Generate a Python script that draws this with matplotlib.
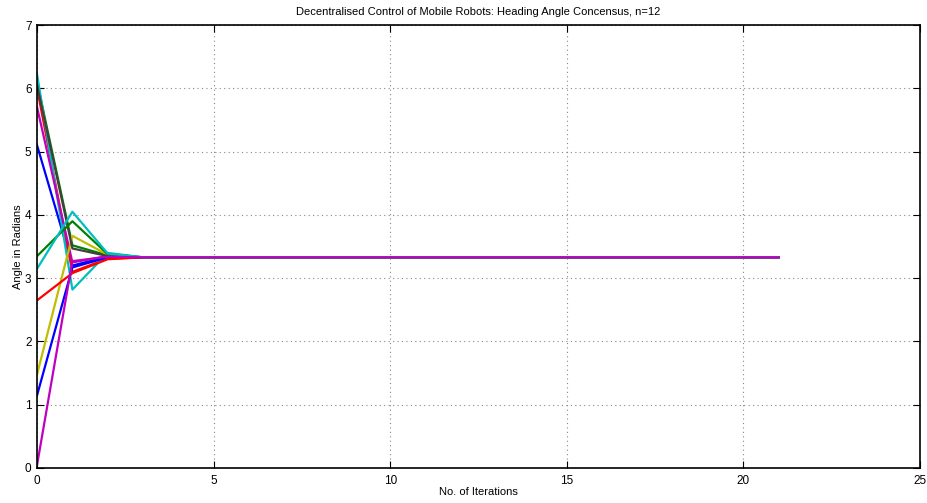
import matplotlib
matplotlib.use('Agg')
import matplotlib.pyplot as plt

plt.rcParams['font.family'] = ['Liberation Sans', 'DejaVu Sans']

# heading angles per robot, iterations 0..21
tail = [3.33] * 18
robots = [
    [5.10, 3.20, 3.34, 3.33] + tail,
    [6.10, 3.52, 3.36, 3.33] + tail,
    [6.00, 3.10, 3.31, 3.33] + tail,
    [6.22, 2.82, 3.40, 3.33] + tail,
    [5.70, 3.25, 3.35, 3.33] + tail,
    [1.48, 3.67, 3.37, 3.33] + tail,
    [6.05, 3.47, 3.35, 3.33] + tail,
    [1.15, 3.17, 3.33, 3.33] + tail,
    [3.35, 3.90, 3.38, 3.33] + tail,
    [2.65, 3.08, 3.30, 3.33] + tail,
    [3.15, 4.05, 3.39, 3.33] + tail,
    [0.05, 3.27, 3.34, 3.33] + tail,
]
iters = list(range(22))
colours = [(0, 0, 1), (0, 0.5, 0), (1, 0, 0), (0, 0.75, 0.75),
           (0.75, 0, 0.75), (0.75, 0.75, 0), (0.25, 0.25, 0.25)]

fig = plt.figure(figsize=(9.27, 5.03), dpi=100)
ax = fig.add_axes([0.040, 0.0696, 0.9525, 0.8804])
for i, r in enumerate(robots):
    ax.plot(iters, r, color=colours[i % len(colours)], lw=1.6)

ax.set_xlim(0, 25)
ax.set_ylim(0, 7)
ax.set_xticks(range(0, 26, 5))
ax.set_yticks(range(0, 8))
ax.grid(True, linestyle=(0, (1, 3)), color='#888888', lw=0.8)
ax.tick_params(direction='in', top=True, right=True, labelsize=8.5, length=5)
ax.tick_params(axis='x', pad=5)
ax.tick_params(axis='y', pad=4)
for s in ax.spines.values():
    s.set_linewidth(1.2)
ax.set_title('Decentralised Control of Mobile Robots: Heading Angle Concensus, n=12',
             fontsize=8, pad=7)
ax.set_xlabel('No. of Iterations', fontsize=8, labelpad=0)
ax.set_ylabel('Angle in Radians', fontsize=8, labelpad=1.5)

fig.savefig('out.png', dpi=100)
